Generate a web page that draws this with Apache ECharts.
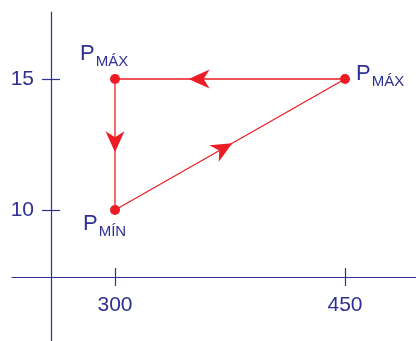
<!DOCTYPE html>
<html>
<head>
<meta charset="utf-8">
<script src="https://cdn.jsdelivr.net/npm/echarts@6/dist/echarts.min.js"></script>
<style>
  html, body { margin: 0; padding: 0; background: #ffffff; }
  #chart { width: 416px; height: 341px; }
</style>
</head>
<body>
<div id="chart"></div>
<script>
// points of the cycle
const pointX = [300, 300, 450];
const pointY = [10, 15, 15];
const pointSub = ['MÍN', 'MÁX', 'MÁX'];
// cycle order: MIN -> MAX(450) -> MAX(300) -> MIN
const cycleOrder = [0, 2, 1, 0];
const xTicks = [300, 450];
const yTicks = [10, 15];

const navy = '#2e3192';
const red = '#ed1c24';
const font = 'Liberation Sans';

// where the arrowhead sits along each segment (0..1)
const arrowAt = [0.51, 0.68, 0.56];

let segments = [];
for (let i = 0; i < cycleOrder.length - 1; i++) {
  let a = cycleOrder[i], b = cycleOrder[i + 1];
  segments.push([pointX[a], pointY[a], pointX[b], pointY[b], arrowAt[i]]);
}

// label offsets, relative to the symbol box
const labelPos = [
  [-27, 34],
  [-30, -5],
  [16, 15],
];

const chart = echarts.init(document.getElementById('chart'));

// main axis draws line + labels, second axis (shifted) draws the crossing ticks
function axisX(tickOnly) {
  return {
    type: 'value',
    position: 'bottom',
    offset: tickOnly ? -55 : -64,
    min: 232.83,
    max: 496.3,
    axisLine: { show: !tickOnly, onZero: false, lineStyle: { color: navy, width: 1.2 } },
    axisTick: { show: tickOnly, inside: true, length: 18, customValues: xTicks, lineStyle: { color: navy, width: 1.2 } },
    axisLabel: { show: !tickOnly, customValues: xTicks, margin: 18, color: navy, fontSize: 21, fontFamily: font },
    splitLine: { show: false },
  };
}
function axisY(tickOnly) {
  return {
    type: 'value',
    position: 'left',
    offset: tickOnly ? -30 : -39,
    min: 5,
    max: 17.557,
    axisLine: { show: !tickOnly, onZero: false, lineStyle: { color: navy, width: 1.2 } },
    axisTick: { show: tickOnly, inside: true, length: 18, customValues: yTicks, lineStyle: { color: navy, width: 1.2 } },
    axisLabel: { show: !tickOnly, customValues: yTicks, margin: 17, color: navy, fontSize: 21, fontFamily: font },
    splitLine: { show: false },
  };
}

chart.setOption({
  animation: false,
  grid: { left: 12, right: 0, top: 12, bottom: 0, containLabel: false },
  xAxis: [axisX(false), axisX(true)],
  yAxis: [axisY(false), axisY(true)],
  series: [
    {
      type: 'custom',
      xAxisIndex: 0,
      yAxisIndex: 0,
      data: segments,
      renderItem: function (params, api) {
        let p1 = api.coord([api.value(0), api.value(1)]);
        let p2 = api.coord([api.value(2), api.value(3)]);
        let t = api.value(4);
        let dx = p2[0] - p1[0], dy = p2[1] - p1[1];
        let len = Math.sqrt(dx * dx + dy * dy);
        let ux = dx / len, uy = dy / len;
        let nx = -uy, ny = ux;
        let tip = [p1[0] + dx * t, p1[1] + dy * t];
        let L = 21, W = 9.5, notch = 6;
        let back = [tip[0] - ux * L, tip[1] - uy * L];
        let pts = [
          tip,
          [back[0] + nx * W, back[1] + ny * W],
          [tip[0] - ux * (L - notch), tip[1] - uy * (L - notch)],
          [back[0] - nx * W, back[1] - ny * W],
        ];
        return {
          type: 'group',
          children: [
            { type: 'line', shape: { x1: p1[0], y1: p1[1], x2: p2[0], y2: p2[1] }, style: { stroke: red, lineWidth: 1.3 } },
            { type: 'polygon', shape: { points: pts }, style: { fill: red } },
          ],
        };
      },
      z: 2,
    },
    {
      type: 'scatter',
      xAxisIndex: 0,
      yAxisIndex: 0,
      symbolSize: 10,
      itemStyle: { color: red, opacity: 1 },
      z: 3,
      data: pointX.map(function (x, i) {
        return {
          value: [x, pointY[i]],
          label: {
            show: true,
            position: labelPos[i],
            align: 'left',
            verticalAlign: 'bottom',
            formatter: '{p|P}{s|' + pointSub[i] + '}',
            rich: {
              p: { fontSize: 22, color: navy, fontFamily: font, padding: [0, 1, 4, 0], verticalAlign: 'bottom' },
              s: { fontSize: 15, color: navy, fontFamily: font, verticalAlign: 'bottom' },
            },
          },
        };
      }),
    },
  ],
});
</script>
</body>
</html>
